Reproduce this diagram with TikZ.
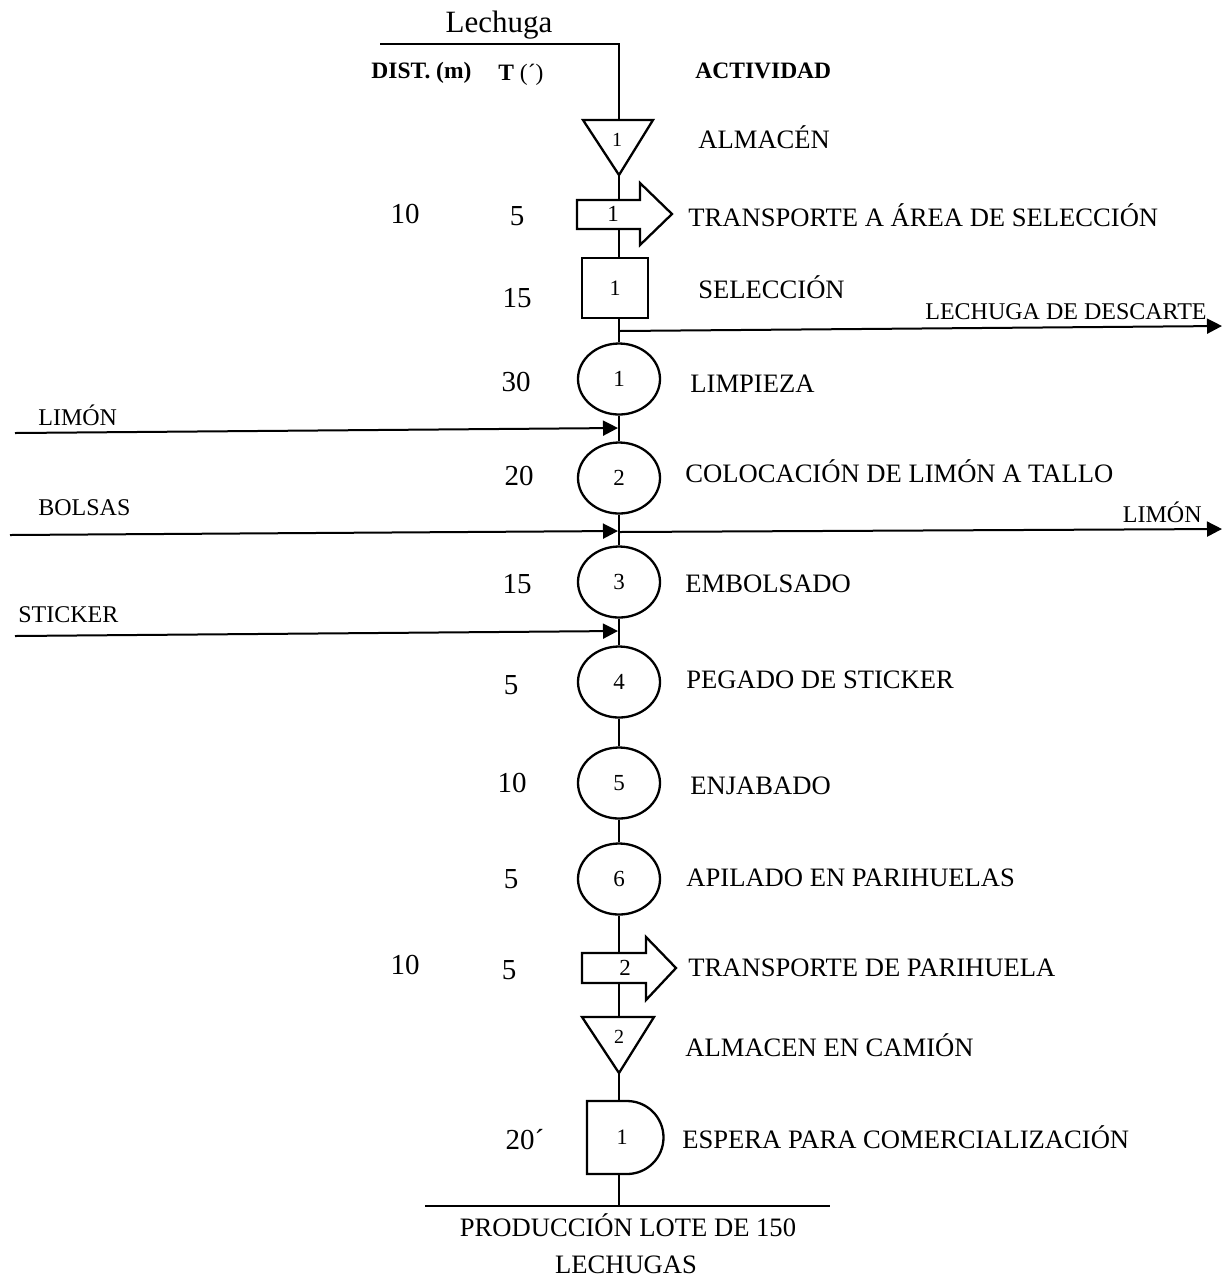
\documentclass[tikz,border=0pt]{standalone}
\usepackage{fontspec}
\setmainfont{Liberation Serif}
\usetikzlibrary{shapes.geometric,arrows.meta}
\begin{document}
\begin{tikzpicture}[x=0.5pt,y=-0.5pt,
  lab/.style={font=\fontsize{13.3}{16}\selectfont, inner sep=0, anchor=base west, yshift=-4.4pt},
  sm/.style={font=\fontsize{12}{14}\selectfont, inner sep=0, anchor=base west, yshift=-4pt},
  smr/.style={font=\fontsize{12}{14}\selectfont, inner sep=0, anchor=base east, yshift=-4pt},
  num/.style={font=\fontsize{14.5}{17}\selectfont, inner sep=0, anchor=base, yshift=-4.9pt},
  hdr/.style={font=\bfseries\fontsize{11.75}{14}\selectfont, inner sep=0, anchor=base west, yshift=-4pt},
  innum/.style={font=\fontsize{11.5}{13}\selectfont, inner sep=0},
  trinum/.style={font=\fontsize{10}{12}\selectfont, inner sep=0},
  sym/.style={draw, line width=1.15pt, line join=miter},
  op/.style={sym, ellipse, minimum width=41pt, minimum height=35.5pt, inner sep=0, font=\fontsize{11.5}{13}\selectfont},
  flow/.style={line width=0.6pt},
  io/.style={line width=1pt, -{Triangle[length=7.5pt,width=7.5pt]}},
]
\useasboundingbox (0,0) rectangle (1229,1282);

% headers
\node[font=\fontsize{15.5}{18}\selectfont, inner sep=0, anchor=base, yshift=-5.1pt] (tlech) at (499,22) {Lechuga};
\node[hdr] (hdist) at (371,70) {DIST. (m)};
\node[hdr] (ht) at (498,72) {T {\mdseries(´)}};
\node[hdr] (hact) at (695,70) {ACTIVIDAD};

% symbols
\draw[sym] (583,120) -- (653,120) -- (619,175) -- cycle;
\node[trinum] (a1) at (617,140) {1};
\coordinate (a1top) at (619,120);
\coordinate (a1bot) at (619,175);

\draw[sym] (577,200) -- (640,200) -- (640,183) -- (672,214) -- (640,245) -- (640,229) -- (577,229) -- cycle;
\node[innum] (t1) at (613,214) {1};
\coordinate (t1top) at (619,200);
\coordinate (t1bot) at (619,229);

\node[sym, rectangle, minimum width=33pt, minimum height=30pt, inner sep=0, font=\fontsize{11}{13}\selectfont] (s1) at (615,288) {1};
\coordinate (s1top) at (619,258);
\coordinate (s1bot) at (619,318);

\node[op] (c1) at (619,379) {1};
\node[op] (c2) at (619,478) {2};
\node[op] (c3) at (619,582) {3};
\node[op] (c4) at (619,682) {4};
\node[op] (c5) at (619,783) {5};
\node[op] (c6) at (619,879) {6};

\draw[sym] (582,953) -- (646,953) -- (646,937) -- (676,968) -- (646,1000) -- (646,983) -- (582,983) -- cycle;
\node[innum] (t2) at (625,968) {2};
\coordinate (t2top) at (619,953);
\coordinate (t2bot) at (619,983);

\draw[sym] (582,1017) -- (654,1017) -- (619,1073) -- cycle;
\node[trinum] (a2) at (619,1037) {2};
\coordinate (a2top) at (619,1017);
\coordinate (a2bot) at (619,1073);

\draw[sym] (587,1101) -- (627,1101) arc[start angle=90, end angle=-90, radius=18.25pt] -- (587,1174) -- cycle;
\node[font=\fontsize{11}{13}\selectfont, inner sep=0] (d1) at (622,1137) {1};
\coordinate (d1top) at (619,1101);
\coordinate (d1bot) at (619,1174);

% main flow line
\coordinate (lstart) at (380,44);
\coordinate (lcorner) at (619,44);
\draw[flow] (lstart) -- (lcorner) -- (a1top);
\draw[flow] (a1bot) -- (t1top);
\draw[flow] (t1bot) -- (s1top);
\draw[flow] (s1bot) -- (c1.north);
\draw[flow] (c1.south) -- (c2.north);
\draw[flow] (c2.south) -- (c3.north);
\draw[flow] (c3.south) -- (c4.north);
\draw[flow] (c4.south) -- (c5.north);
\draw[flow] (c5.south) -- (c6.north);
\draw[flow] (c6.south) -- (t2top);
\draw[flow] (t2bot) -- (a2top);
\draw[flow] (a2bot) -- (d1top);
\coordinate (pbase) at (619,1206);
\draw[flow] (d1bot) -- (pbase);
\coordinate (bl) at (425,1206);
\coordinate (br) at (830,1206);
\draw[line width=0.8pt] (bl) -- (br);

% inputs / outputs
\coordinate (jdesc) at (619,331);
\coordinate (edesc) at (1222,326);
\draw[io] (jdesc) -- (edesc);
\coordinate (slim) at (15,433);
\coordinate (jlim) at (618,428);
\draw[io] (slim) -- (jlim);
\coordinate (sbol) at (10,535);
\coordinate (jbol) at (618,531);
\draw[io] (sbol) -- (jbol);
\coordinate (jlimo) at (619,532);
\coordinate (elimo) at (1222,529);
\draw[io] (jlimo) -- (elimo);
\coordinate (ssti) at (15,636);
\coordinate (jsti) at (618,631);
\draw[io] (ssti) -- (jsti);

\node[smr] (ldesc) at (1207,311) {LECHUGA DE DESCARTE};
\node[sm] (llim) at (38,417) {LIMÓN};
\node[sm] (lbol) at (38,507) {BOLSAS};
\node[smr] (llimo) at (1202,514) {LIMÓN};
\node[sm] (lsti) at (18,614) {STICKER};

% distances / times
\node[num] (d01) at (405,214) {10};
\node[num] (n01) at (517,216) {5};
\node[num] (n02) at (517,298) {15};
\node[num] (n03) at (516,382) {30};
\node[num] (n04) at (519,476) {20};
\node[num] (n05) at (517,584) {15};
\node[num] (n06) at (511,685) {5};
\node[num] (n07) at (512,783) {10};
\node[num] (n08) at (511,879) {5};
\node[num] (d02) at (405,965) {10};
\node[num] (n09) at (509,970) {5};
\node[num] (n10) at (525,1140) {20´};

% activities
\node[lab] (x01) at (698,140) {ALMACÉN};
\node[lab] (x02) at (688,218) {TRANSPORTE A ÁREA DE SELECCIÓN};
\node[lab] (x03) at (698,290) {SELECCIÓN};
\node[lab] (x04) at (690,384) {LIMPIEZA};
\node[lab] (x05) at (685,474) {COLOCACIÓN DE LIMÓN A TALLO};
\node[lab] (x06) at (685,584) {EMBOLSADO};
\node[lab] (x07) at (686,680) {PEGADO DE STICKER};
\node[lab] (x08) at (690,786) {ENJABADO};
\node[lab] (x09) at (686,878) {APILADO EN PARIHUELAS};
\node[lab] (x10) at (688,968) {TRANSPORTE DE PARIHUELA};
\node[lab] (x11) at (685,1048) {ALMACEN EN CAMIÓN};
\node[lab] (x12) at (682,1140) {ESPERA PARA COMERCIALIZACIÓN};

\node[lab, anchor=base] (p1) at (628,1228) {PRODUCCIÓN LOTE DE 150};
\node[lab, anchor=base] (p2) at (626,1265) {LECHUGAS};
\end{tikzpicture}
\end{document}
